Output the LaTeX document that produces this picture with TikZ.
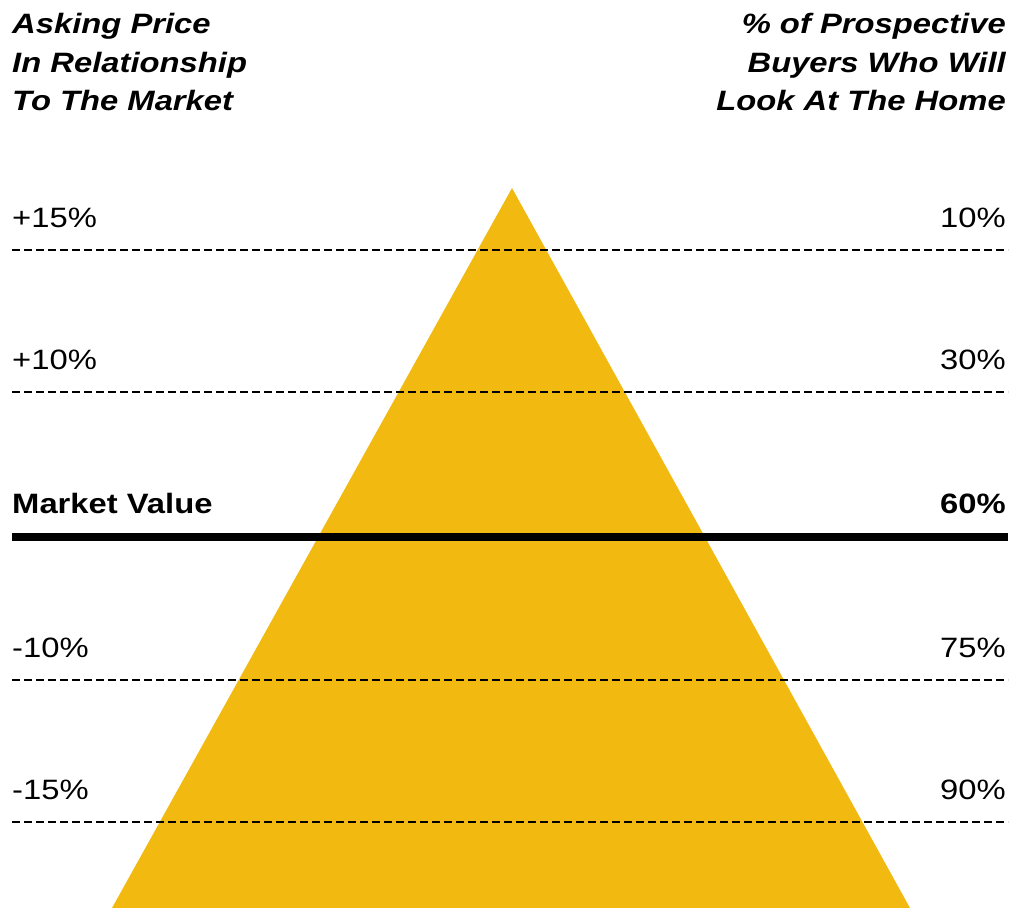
\documentclass[tikz,border=0pt]{standalone}
\usepackage{fontspec}
\setmainfont{Liberation Sans}
\definecolor{pyr}{RGB}{242,186,16}
\begin{document}
\begin{tikzpicture}[x=1pt,y=-1pt,
  lbl/.style={inner sep=0pt,xscale=1.17,font=\fontsize{28}{34}\selectfont},
  hdr/.style={inner sep=0pt,xscale=1.17,font=\fontsize{28}{34}\selectfont\bfseries\itshape},
  dashline/.style={line width=2.2pt,dash pattern=on 8pt off 4pt},
  mvline/.style={line width=7.5pt}]
\useasboundingbox (0,0) rectangle (1013,908);
% pyramid
\coordinate (apex) at (512,188);
\coordinate (bl) at (112,908);
\coordinate (br) at (910,908);
\fill[pyr] (apex) -- (bl) -- (br) -- cycle;
% lines
\coordinate (l1a) at (12,250); \coordinate (l1b) at (1008,250);
\coordinate (l2a) at (12,392); \coordinate (l2b) at (1008,392);
\coordinate (l3a) at (12,537); \coordinate (l3b) at (1008,537);
\coordinate (l4a) at (12,680); \coordinate (l4b) at (1008,680);
\coordinate (l5a) at (12,822); \coordinate (l5b) at (1008,822);
\draw[dashline] (l1a) -- (l1b);
\draw[dashline] (l2a) -- (l2b);
\draw[mvline] (l3a) -- (l3b);
\draw[dashline] (l4a) -- (l4b);
\draw[dashline] (l5a) -- (l5b);
% headers
\node[hdr,anchor=base west] (h1) at (12,33) {Asking Price};
\node[hdr,anchor=base west] (h2) at (12,72) {In Relationship};
\node[hdr,anchor=base west] (h3) at (12,110) {To The Market};
\node[hdr,anchor=base east] (r1) at (1006,33) {\% of Prospective};
\node[hdr,anchor=base east] (r2) at (1006,72) {Buyers Who Will};
\node[hdr,anchor=base east] (r3) at (1006,110) {Look At The Home};
% labels
\node[lbl,anchor=base west] (a1) at (12,227) {+15\%};
\node[lbl,anchor=base west] (a2) at (12,369) {+10\%};
\node[lbl,anchor=base west,font=\fontsize{28}{34}\selectfont\bfseries] (a3) at (12,513) {Market Value};
\node[lbl,anchor=base west] (a4) at (12,657) {-10\%};
\node[lbl,anchor=base west] (a5) at (12,799) {-15\%};
\node[lbl,anchor=base east] (b1) at (1006,227) {10\%};
\node[lbl,anchor=base east] (b2) at (1006,369) {30\%};
\node[lbl,anchor=base east,font=\fontsize{28}{34}\selectfont\bfseries] (b3) at (1006,513) {60\%};
\node[lbl,anchor=base east] (b4) at (1006,657) {75\%};
\node[lbl,anchor=base east] (b5) at (1006,799) {90\%};
\end{tikzpicture}
\end{document}
